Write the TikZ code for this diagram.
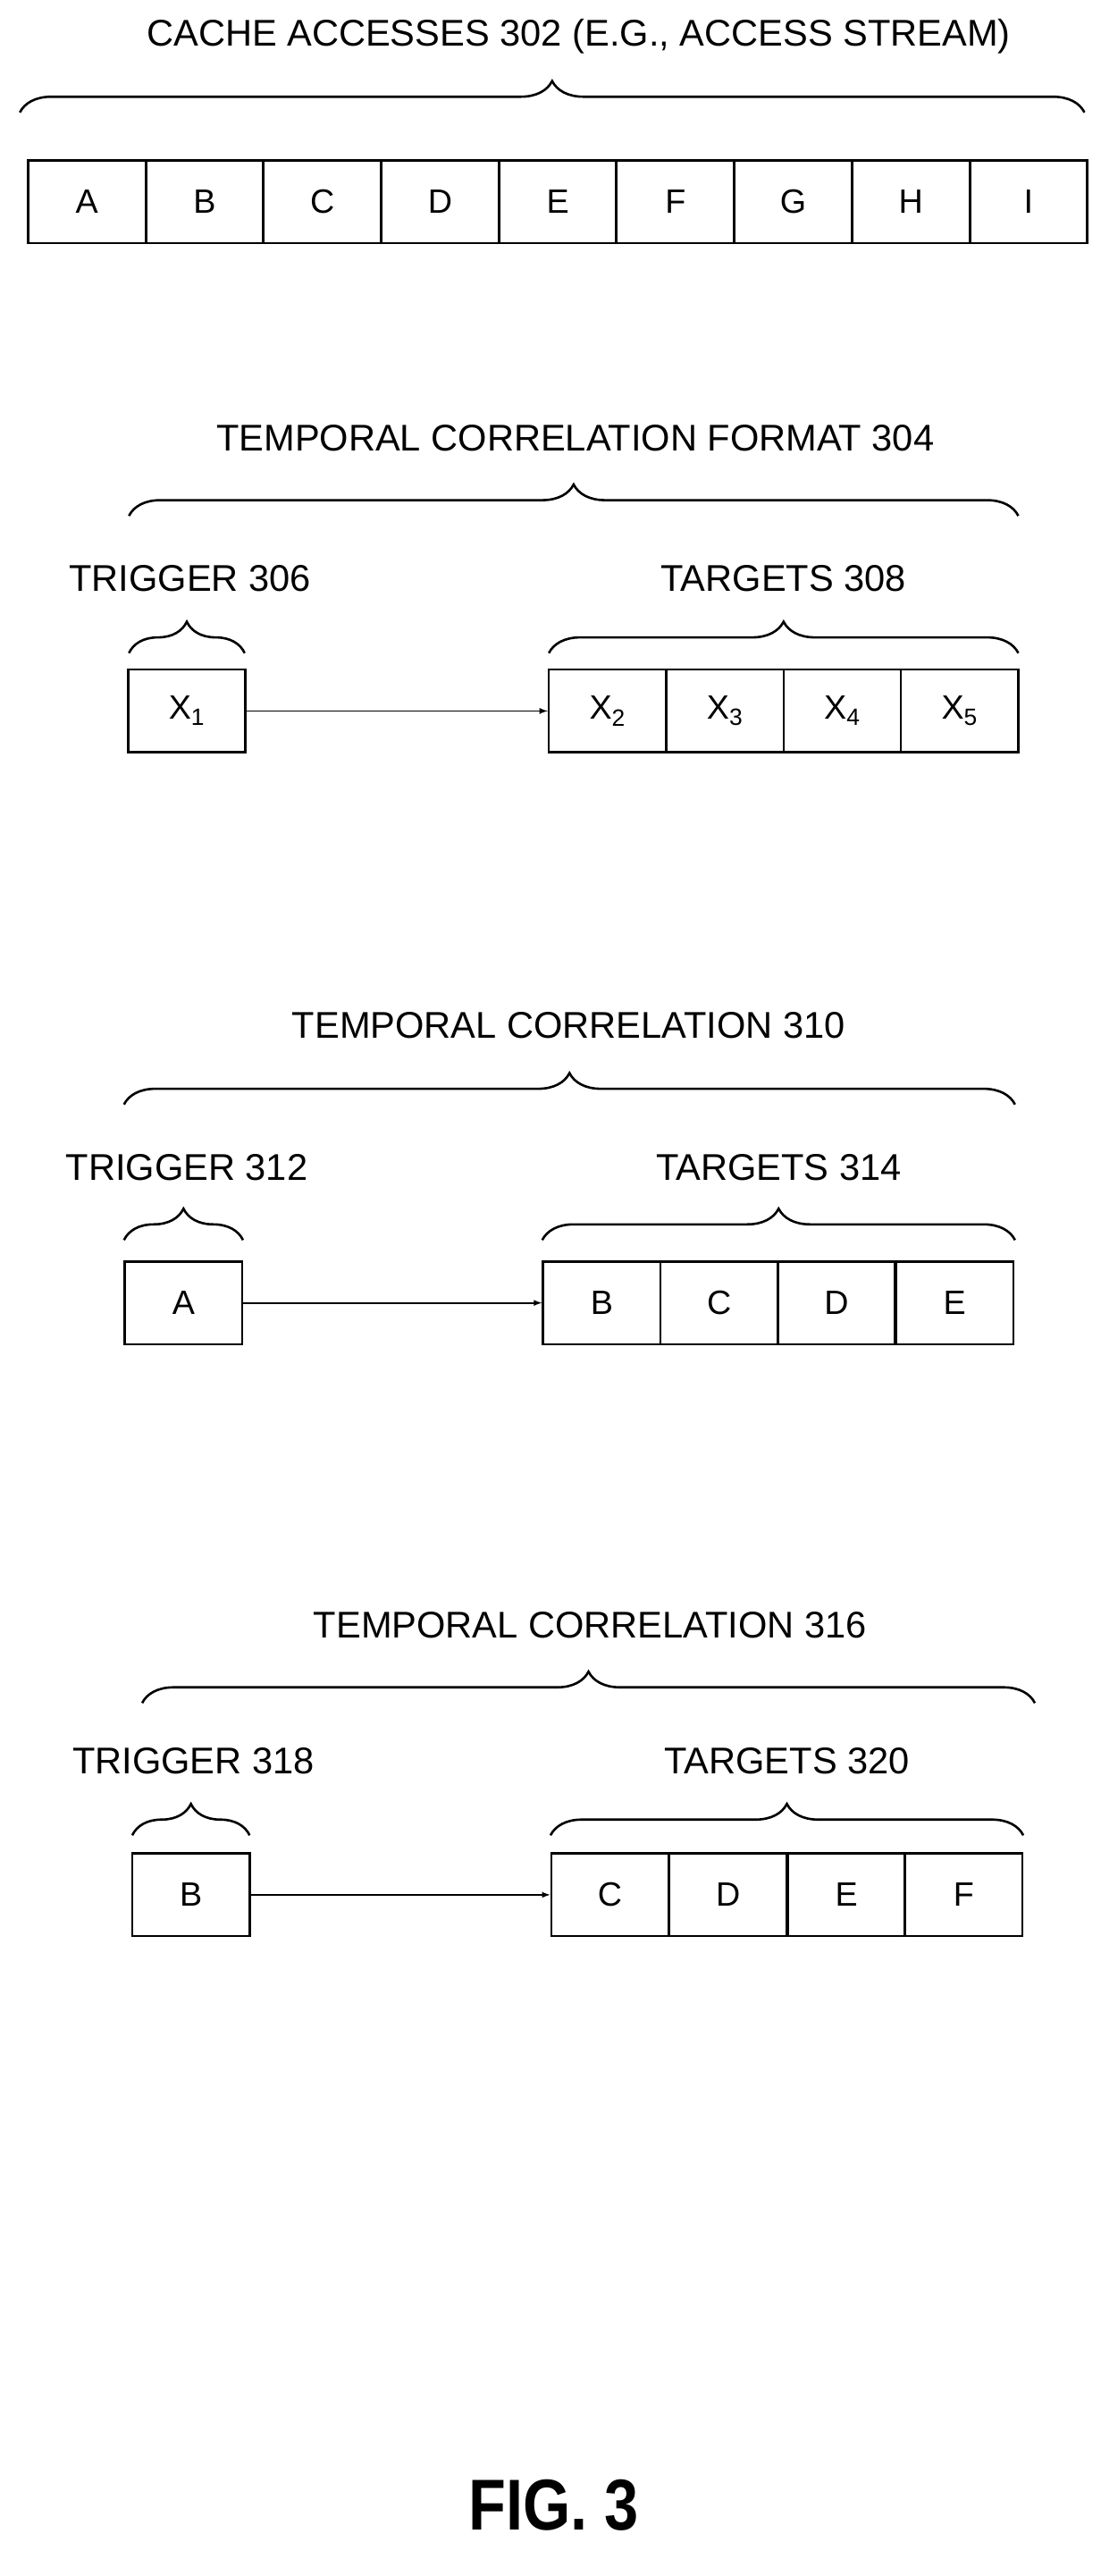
\documentclass[tikz,border=0pt]{standalone}
\usepackage{fontspec}
\setmainfont{Liberation Sans}
\usetikzlibrary{decorations.pathreplacing}

\tikzset{
  cell/.style={draw, line width=2pt, minimum width=3.55cm, minimum height=2.5cm, inner sep=0pt, font=\fontsize{29}{34}\selectfont},
  lbl/.style={inner sep=0pt, font=\fontsize{32}{38}\selectfont},
  brc/.style={draw, line width=2pt, decorate, decoration={brace, amplitude=0.95cm}},
}

\begin{document}
\begin{tikzpicture}[x=0.05cm, y=-0.05cm]
\useasboundingbox (0,0) rectangle (666,1558);

% Cache access stream
\node[lbl] (T302) at (350,22) {CACHE ACCESSES 302 (E.G., ACCESS STREAM)};
\coordinate (S1) at (12,68);
\coordinate (S2) at (656,68);
\draw[brc] (S1) -- (S2);
\foreach \n [count=\i from 0] in {A,B,C,D,E,F,G,H,I}
  \node[cell] (C\n) at (52.6+71.2*\i,122) {\n};

% Temporal correlation format 304
\node[lbl] (T304) at (348,265) {TEMPORAL CORRELATION FORMAT 304};
\coordinate (F1) at (78,312);
\coordinate (F2) at (616,312);
\draw[brc] (F1) -- (F2);
\node[lbl] (T306) at (115,350) {TRIGGER 306};
\coordinate (G1) at (78,395);
\coordinate (G2) at (148,395);
\draw[brc] (G1) -- (G2);
\node[lbl] (T308) at (474,350) {TARGETS 308};
\coordinate (H1) at (332,395);
\coordinate (H2) at (616,395);
\draw[brc] (H1) -- (H2);
\node[cell] (X1) at (113,430) {X\textsubscript{1}};
\node[cell] (X2) at (367.5,430) {X\textsubscript{2}};
\node[cell] (X3) at (438.5,430) {X\textsubscript{3}};
\node[cell] (X4) at (509.5,430) {X\textsubscript{4}};
\node[cell] (X5) at (580.5,430) {X\textsubscript{5}};
\draw[line width=1.4pt, -latex] (X1) -- (X2);

% Temporal correlation 310
\node[lbl] (T310) at (344,620) {TEMPORAL CORRELATION 310};
\coordinate (P1) at (75,668);
\coordinate (P2) at (614,668);
\draw[brc] (P1) -- (P2);
\node[lbl] (T312) at (113,706) {TRIGGER 312};
\coordinate (Q1) at (75,750);
\coordinate (Q2) at (147,750);
\draw[brc] (Q1) -- (Q2);
\node[lbl] (T314) at (471,706) {TARGETS 314};
\coordinate (R1) at (328,750);
\coordinate (R2) at (614,750);
\draw[brc] (R1) -- (R2);
\node[cell] (PA) at (111,788) {A};
\node[cell] (PB) at (364,788) {B};
\node[cell] (PC) at (435,788) {C};
\node[cell] (PD) at (506,788) {D};
\node[cell] (PE) at (577.5,788) {E};
\draw[line width=1.4pt, -latex] (PA) -- (PB);

% Temporal correlation 316
\node[lbl] (T316) at (357,983) {TEMPORAL CORRELATION 316};
\coordinate (U1) at (86,1030);
\coordinate (U2) at (626,1030);
\draw[brc] (U1) -- (U2);
\node[lbl] (T318) at (117,1065) {TRIGGER 318};
\coordinate (V1) at (80,1110);
\coordinate (V2) at (151,1110);
\draw[brc] (V1) -- (V2);
\node[lbl] (T320) at (476,1065) {TARGETS 320};
\coordinate (W1) at (333,1110);
\coordinate (W2) at (619,1110);
\draw[brc] (W1) -- (W2);
\node[cell] (UB) at (115.5,1146) {B};
\node[cell] (UC) at (369,1146) {C};
\node[cell] (UD) at (440.5,1146) {D};
\node[cell] (UE) at (512,1146) {E};
\node[cell] (UF) at (583,1146) {F};
\draw[line width=1.4pt, -latex] (UB) -- (UC);

\node[inner sep=0pt, xscale=0.85, font=\fontsize{62}{70}\selectfont\bfseries] (FIG) at (335,1515) {FIG. 3};
\end{tikzpicture}
\end{document}
